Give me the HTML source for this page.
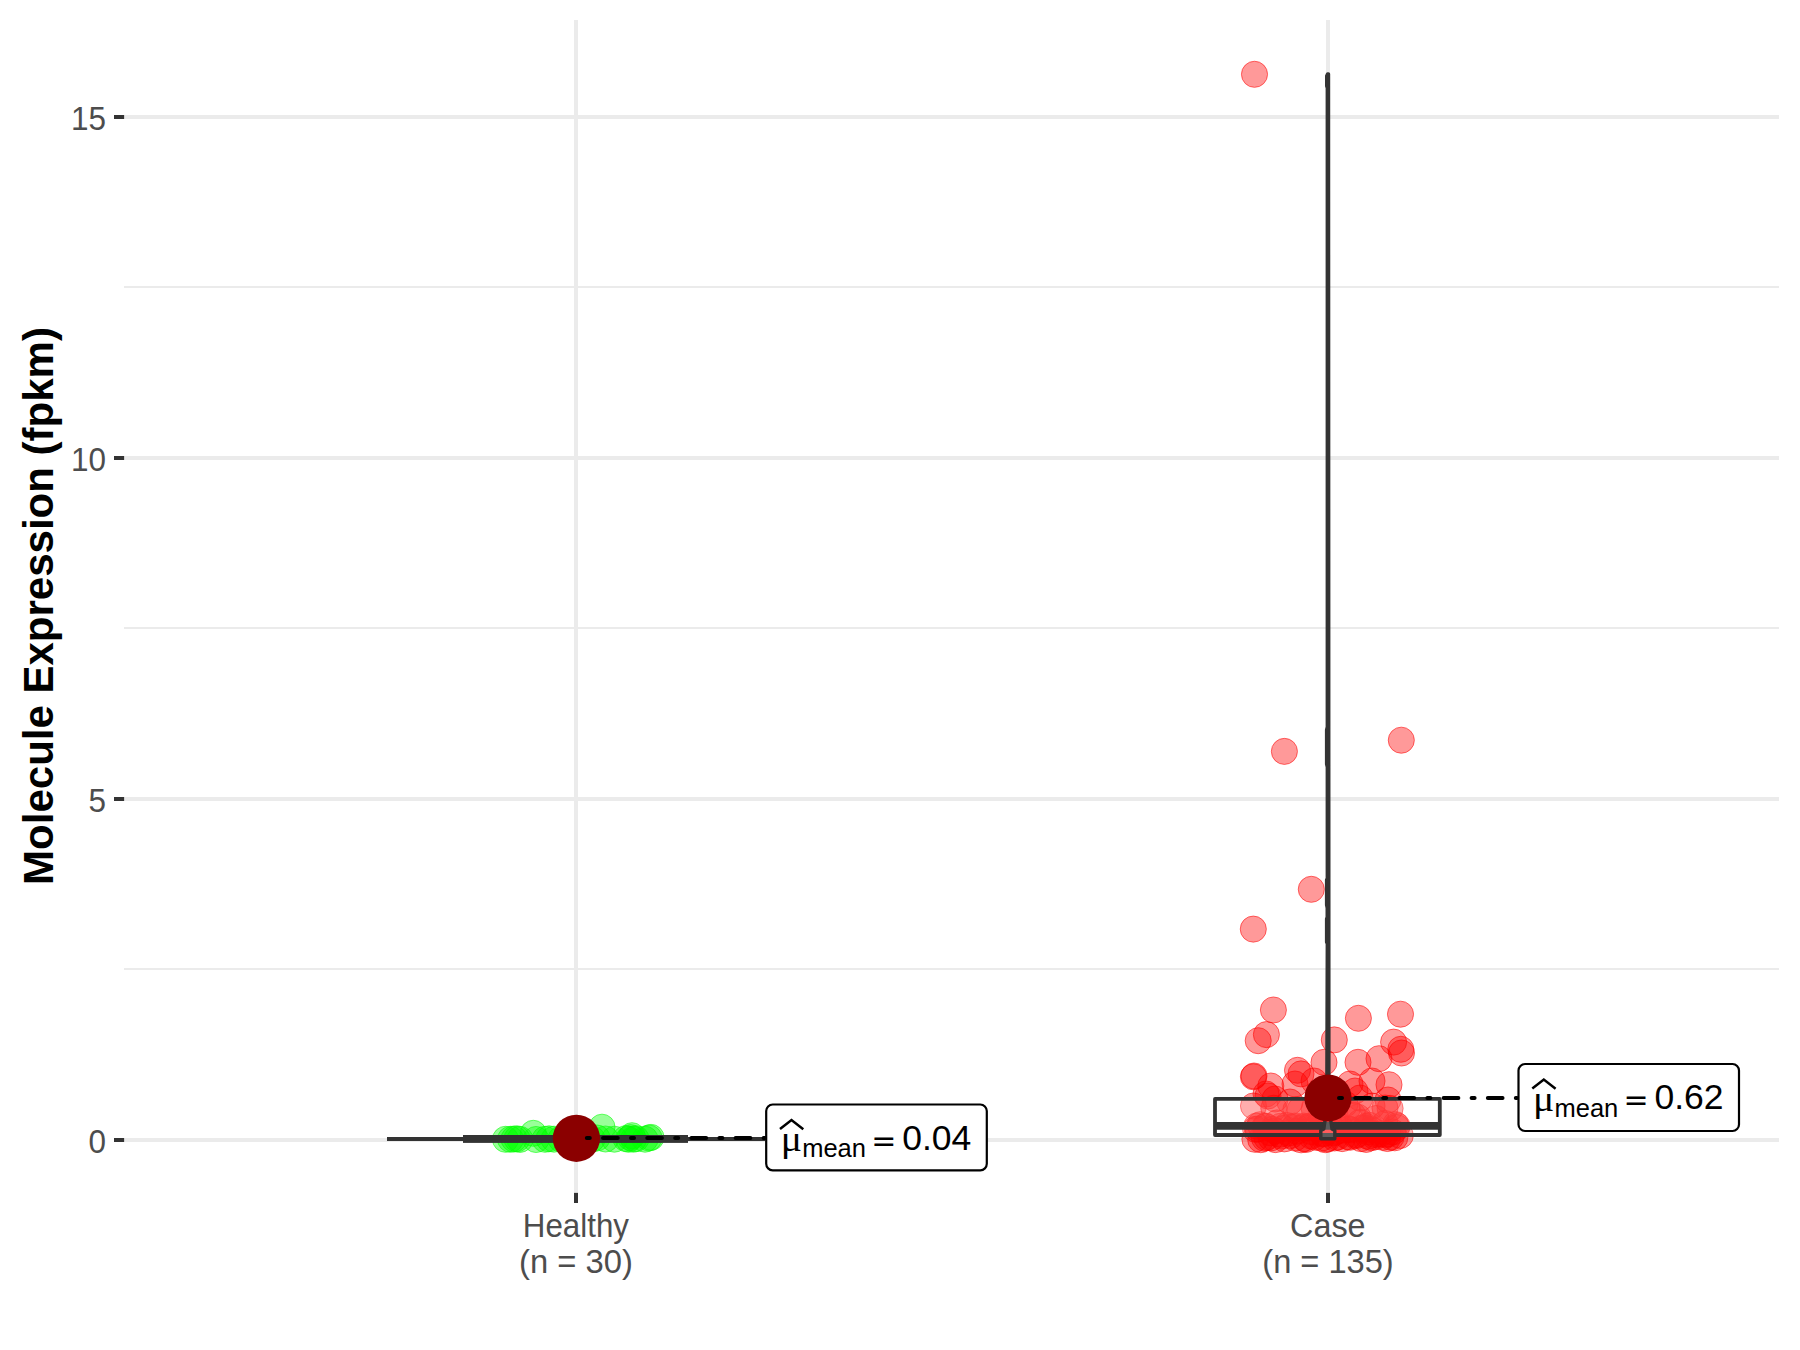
<!DOCTYPE html><html><head><meta charset="utf-8"><title>Molecule Expression</title>
<style>html,body{margin:0;padding:0;background:#fff}svg{display:block}text{font-family:"Liberation Sans",sans-serif}</style></head><body>
<svg width="1800" height="1350" viewBox="0 0 1800 1350">
<rect width="1800" height="1350" fill="#fff"/>
<g stroke="#ebebeb" fill="none">
<line x1="124" x2="1779" y1="287" y2="287" stroke-width="2"/>
<line x1="124" x2="1779" y1="628" y2="628" stroke-width="2"/>
<line x1="124" x2="1779" y1="969" y2="969" stroke-width="2"/>
<line x1="124.8" x2="1779" y1="1140.0" y2="1140.0" stroke-width="4"/>
<line x1="124.8" x2="1779" y1="799.0" y2="799.0" stroke-width="4"/>
<line x1="124.8" x2="1779" y1="458.0" y2="458.0" stroke-width="4"/>
<line x1="124.8" x2="1779" y1="117.0" y2="117.0" stroke-width="4"/>
<line x1="576" x2="576" y1="20" y2="1192.3" stroke-width="4"/>
<line x1="1328" x2="1328" y1="20" y2="1192.3" stroke-width="4"/>
</g>
<g fill="#00ff00" fill-opacity="0.4" stroke="#00ff00" stroke-opacity="0.55" stroke-width="1">
<circle cx="505.5" cy="1139.3" r="13.05"/>
<circle cx="510.5" cy="1139.3" r="13.05"/>
<circle cx="514.0" cy="1139.0" r="13.05"/>
<circle cx="517.0" cy="1138.8" r="13.05"/>
<circle cx="520.0" cy="1139.4" r="13.05"/>
<circle cx="533.3" cy="1133.3" r="13.05"/>
<circle cx="536.0" cy="1139.5" r="13.05"/>
<circle cx="545.0" cy="1139.3" r="13.05"/>
<circle cx="549.0" cy="1138.8" r="13.05"/>
<circle cx="554.0" cy="1139.2" r="13.05"/>
<circle cx="561.0" cy="1139.0" r="13.05"/>
<circle cx="566.0" cy="1139.2" r="13.05"/>
<circle cx="571.0" cy="1139.0" r="13.05"/>
<circle cx="576.0" cy="1138.5" r="13.05"/>
<circle cx="581.0" cy="1139.3" r="13.05"/>
<circle cx="586.0" cy="1137.0" r="13.05"/>
<circle cx="592.0" cy="1139.0" r="13.05"/>
<circle cx="597.0" cy="1138.0" r="13.05"/>
<circle cx="602.0" cy="1127.2" r="13.05"/>
<circle cx="605.5" cy="1139.0" r="13.05"/>
<circle cx="614.4" cy="1139.2" r="13.05"/>
<circle cx="626.0" cy="1138.6" r="13.05"/>
<circle cx="628.5" cy="1139.3" r="13.05"/>
<circle cx="630.5" cy="1137.6" r="13.05"/>
<circle cx="632.0" cy="1135.7" r="13.05"/>
<circle cx="633.5" cy="1139.2" r="13.05"/>
<circle cx="636.0" cy="1138.7" r="13.05"/>
<circle cx="645.0" cy="1139.2" r="13.05"/>
<circle cx="649.0" cy="1138.0" r="13.05"/>
<circle cx="651.0" cy="1137.4" r="13.05"/>
</g>
<g fill="#ff0000" fill-opacity="0.4" stroke="#ff0000" stroke-opacity="0.55" stroke-width="1">
<circle cx="1254.5" cy="74.3" r="13.05"/>
<circle cx="1284.4" cy="751.4" r="13.05"/>
<circle cx="1401.3" cy="740.2" r="13.05"/>
<circle cx="1311.3" cy="889.3" r="13.05"/>
<circle cx="1253.3" cy="929.1" r="13.05"/>
<circle cx="1273.4" cy="1010.0" r="13.05"/>
<circle cx="1358.4" cy="1018.3" r="13.05"/>
<circle cx="1400.5" cy="1014.2" r="13.05"/>
<circle cx="1266.4" cy="1034.6" r="13.05"/>
<circle cx="1258.2" cy="1040.7" r="13.05"/>
<circle cx="1334.3" cy="1039.9" r="13.05"/>
<circle cx="1393.6" cy="1042.1" r="13.05"/>
<circle cx="1400.8" cy="1049.3" r="13.05"/>
<circle cx="1401.5" cy="1053.0" r="13.05"/>
<circle cx="1379.0" cy="1058.7" r="13.05"/>
<circle cx="1358.0" cy="1062.3" r="13.05"/>
<circle cx="1324.0" cy="1062.3" r="13.05"/>
<circle cx="1297.5" cy="1070.3" r="13.05"/>
<circle cx="1301.0" cy="1073.9" r="13.05"/>
<circle cx="1254.0" cy="1076.0" r="13.05"/>
<circle cx="1253.4" cy="1076.8" r="13.05"/>
<circle cx="1389.0" cy="1084.7" r="13.05"/>
<circle cx="1350.0" cy="1084.0" r="13.05"/>
<circle cx="1372.0" cy="1081.0" r="13.05"/>
<circle cx="1295.0" cy="1084.0" r="13.05"/>
<circle cx="1270.8" cy="1086.0" r="13.05"/>
<circle cx="1266.0" cy="1094.0" r="13.05"/>
<circle cx="1268.0" cy="1096.0" r="13.05"/>
<circle cx="1314.0" cy="1081.0" r="13.05"/>
<circle cx="1388.0" cy="1100.0" r="13.05"/>
<circle cx="1355.0" cy="1091.0" r="13.05"/>
<circle cx="1360.0" cy="1098.0" r="13.05"/>
<circle cx="1253.5" cy="1106.0" r="13.05"/>
<circle cx="1290.0" cy="1102.0" r="13.05"/>
<circle cx="1275.0" cy="1099.0" r="13.05"/>
<circle cx="1385.0" cy="1108.0" r="13.05"/>
<circle cx="1372.0" cy="1106.0" r="13.05"/>
<circle cx="1300.0" cy="1110.0" r="13.05"/>
<circle cx="1345.0" cy="1104.0" r="13.05"/>
<circle cx="1254.9" cy="1139.3" r="13.05"/>
<circle cx="1260.7" cy="1139.7" r="13.05"/>
<circle cx="1264.5" cy="1138.3" r="13.05"/>
<circle cx="1266.8" cy="1137.6" r="13.05"/>
<circle cx="1271.0" cy="1137.9" r="13.05"/>
<circle cx="1275.5" cy="1139.6" r="13.05"/>
<circle cx="1281.4" cy="1136.1" r="13.05"/>
<circle cx="1284.4" cy="1138.9" r="13.05"/>
<circle cx="1290.9" cy="1135.5" r="13.05"/>
<circle cx="1295.0" cy="1138.1" r="13.05"/>
<circle cx="1301.1" cy="1139.8" r="13.05"/>
<circle cx="1304.9" cy="1138.6" r="13.05"/>
<circle cx="1306.2" cy="1139.4" r="13.05"/>
<circle cx="1311.2" cy="1136.1" r="13.05"/>
<circle cx="1315.0" cy="1137.2" r="13.05"/>
<circle cx="1321.3" cy="1138.2" r="13.05"/>
<circle cx="1325.3" cy="1139.7" r="13.05"/>
<circle cx="1327.5" cy="1139.0" r="13.05"/>
<circle cx="1334.5" cy="1138.0" r="13.05"/>
<circle cx="1337.3" cy="1137.2" r="13.05"/>
<circle cx="1342.2" cy="1138.6" r="13.05"/>
<circle cx="1348.0" cy="1136.7" r="13.05"/>
<circle cx="1350.0" cy="1137.3" r="13.05"/>
<circle cx="1355.6" cy="1135.8" r="13.05"/>
<circle cx="1360.8" cy="1138.6" r="13.05"/>
<circle cx="1366.2" cy="1139.4" r="13.05"/>
<circle cx="1368.1" cy="1136.4" r="13.05"/>
<circle cx="1371.3" cy="1137.7" r="13.05"/>
<circle cx="1375.1" cy="1136.8" r="13.05"/>
<circle cx="1382.6" cy="1137.3" r="13.05"/>
<circle cx="1387.4" cy="1138.5" r="13.05"/>
<circle cx="1391.0" cy="1137.2" r="13.05"/>
<circle cx="1394.8" cy="1137.8" r="13.05"/>
<circle cx="1400.3" cy="1135.5" r="13.05"/>
<circle cx="1255.6" cy="1129.3" r="13.05"/>
<circle cx="1258.1" cy="1129.0" r="13.05"/>
<circle cx="1265.0" cy="1126.4" r="13.05"/>
<circle cx="1270.1" cy="1132.7" r="13.05"/>
<circle cx="1272.5" cy="1129.3" r="13.05"/>
<circle cx="1275.3" cy="1131.1" r="13.05"/>
<circle cx="1280.3" cy="1134.2" r="13.05"/>
<circle cx="1284.1" cy="1128.4" r="13.05"/>
<circle cx="1288.8" cy="1133.0" r="13.05"/>
<circle cx="1294.2" cy="1127.5" r="13.05"/>
<circle cx="1297.2" cy="1131.2" r="13.05"/>
<circle cx="1303.6" cy="1127.4" r="13.05"/>
<circle cx="1309.1" cy="1127.6" r="13.05"/>
<circle cx="1311.1" cy="1131.5" r="13.05"/>
<circle cx="1315.8" cy="1127.4" r="13.05"/>
<circle cx="1322.7" cy="1133.9" r="13.05"/>
<circle cx="1323.7" cy="1133.2" r="13.05"/>
<circle cx="1328.3" cy="1130.9" r="13.05"/>
<circle cx="1334.1" cy="1132.9" r="13.05"/>
<circle cx="1335.9" cy="1131.5" r="13.05"/>
<circle cx="1341.9" cy="1130.2" r="13.05"/>
<circle cx="1348.7" cy="1129.1" r="13.05"/>
<circle cx="1351.2" cy="1129.8" r="13.05"/>
<circle cx="1356.2" cy="1134.7" r="13.05"/>
<circle cx="1361.5" cy="1128.3" r="13.05"/>
<circle cx="1365.7" cy="1128.2" r="13.05"/>
<circle cx="1368.0" cy="1131.7" r="13.05"/>
<circle cx="1371.1" cy="1129.6" r="13.05"/>
<circle cx="1375.2" cy="1134.6" r="13.05"/>
<circle cx="1380.2" cy="1133.8" r="13.05"/>
<circle cx="1385.1" cy="1134.8" r="13.05"/>
<circle cx="1388.0" cy="1133.9" r="13.05"/>
<circle cx="1392.8" cy="1132.0" r="13.05"/>
<circle cx="1396.8" cy="1127.5" r="13.05"/>
<circle cx="1256.7" cy="1126.1" r="13.05"/>
<circle cx="1260.1" cy="1124.7" r="13.05"/>
<circle cx="1266.0" cy="1126.2" r="13.05"/>
<circle cx="1273.8" cy="1108.2" r="13.05"/>
<circle cx="1277.0" cy="1122.9" r="13.05"/>
<circle cx="1280.3" cy="1126.3" r="13.05"/>
<circle cx="1286.9" cy="1125.5" r="13.05"/>
<circle cx="1294.7" cy="1126.1" r="13.05"/>
<circle cx="1295.8" cy="1110.0" r="13.05"/>
<circle cx="1303.7" cy="1126.1" r="13.05"/>
<circle cx="1309.0" cy="1126.4" r="13.05"/>
<circle cx="1314.2" cy="1108.8" r="13.05"/>
<circle cx="1321.3" cy="1118.4" r="13.05"/>
<circle cx="1323.4" cy="1124.5" r="13.05"/>
<circle cx="1328.1" cy="1116.2" r="13.05"/>
<circle cx="1335.3" cy="1116.0" r="13.05"/>
<circle cx="1339.5" cy="1125.8" r="13.05"/>
<circle cx="1347.3" cy="1108.6" r="13.05"/>
<circle cx="1352.8" cy="1115.1" r="13.05"/>
<circle cx="1357.9" cy="1117.2" r="13.05"/>
<circle cx="1360.1" cy="1122.3" r="13.05"/>
<circle cx="1366.0" cy="1126.4" r="13.05"/>
<circle cx="1369.5" cy="1125.4" r="13.05"/>
<circle cx="1376.0" cy="1118.5" r="13.05"/>
<circle cx="1385.0" cy="1123.5" r="13.05"/>
<circle cx="1390.1" cy="1108.4" r="13.05"/>
<circle cx="1395.5" cy="1124.6" r="13.05"/>
<circle cx="1396.9" cy="1125.8" r="13.05"/>
</g>
<rect x="463" y="1135" width="225" height="7.9" fill="#333333"/>
<line x1="387" x2="765" y1="1139" y2="1139" stroke="#333333" stroke-width="4"/>
<rect x="1215" y="1098.9" width="224.8" height="36.1" fill="#fff" fill-opacity="0.2" stroke="#333333" stroke-width="3.8" stroke-linejoin="round"/>
<line x1="1215" x2="1439.8" y1="1125.9" y2="1125.9" stroke="#333333" stroke-width="7.6"/>
<path d="M1327.6,74 L1326.7,76 L1326.7,86 L1327.3,88 L1327.3,727 L1326.6,730 L1326.6,764 L1327.3,767 L1327.3,878 L1326.6,880 L1326.6,905 L1327.2,908 L1327.2,917 L1326.6,919 L1326.6,942 L1327.3,944 L1326.8,1100 L1325.8,1118 L1324.8,1122 L1323.8,1129 L1320.8,1130.6 L1320.8,1138.8 L1334.8,1138.8 L1334.8,1130.6 L1332,1129 L1331,1122 L1330,1118 L1328.9,1100 L1328.5,74 Z" fill="#fff" fill-opacity="0.2" stroke="#333333" stroke-width="3.4" stroke-linejoin="round"/>
<circle cx="576.4" cy="1138.3" r="23.6" fill="#8b0000"/>
<circle cx="1328" cy="1098" r="23.6" fill="#8b0000"/>
<line x1="586.8" x2="765" y1="1138.1" y2="1138.1" stroke="#000" stroke-width="4" stroke-linecap="round" stroke-dasharray="3 13.25 14.7 13.25" fill="none"/>
<line x1="1339" x2="1517" y1="1098" y2="1098" stroke="#000" stroke-width="4" stroke-linecap="round" stroke-dasharray="3 13.25 14.7 13.25" fill="none"/>
<rect x="766.2" y="1104.5" width="220.5999999999999" height="65.79999999999995" rx="6.5" ry="6.5" fill="#fff" stroke="#000" stroke-width="2.2"/>
<text transform="translate(780.8000000000001,1151.0) scale(1.1,1)" style="font-family:'Liberation Serif',serif" font-size="36" fill="#000">μ</text>
<text y="1151.0" font-size="35.5" fill="#000"><tspan x="802.2" font-size="25.5" dy="6.3">mean</tspan><tspan x="871.2" dy="-6.4" font-family="'DejaVu Sans',sans-serif" font-size="30">=</tspan><tspan x="902.2" dy="-1.4">0.04</tspan></text>
<path d="M780.0,1129.1 L791.5,1120.0 L803.3,1129.3" fill="none" stroke="#000" stroke-width="2.5"/>
<rect x="1518.5" y="1064" width="220.5" height="67" rx="6.5" ry="6.5" fill="#fff" stroke="#000" stroke-width="2.2"/>
<text transform="translate(1533.1,1110.5) scale(1.1,1)" style="font-family:'Liberation Serif',serif" font-size="36" fill="#000">μ</text>
<text y="1110.5" font-size="35.5" fill="#000"><tspan x="1554.5" font-size="25.5" dy="6.3">mean</tspan><tspan x="1623.5" dy="-6.4" font-family="'DejaVu Sans',sans-serif" font-size="30">=</tspan><tspan x="1654.5" dy="-1.4">0.62</tspan></text>
<path d="M1532.3,1088.6 L1543.8,1079.5 L1555.6,1088.8" fill="none" stroke="#000" stroke-width="2.5"/>
<g stroke="#333333" stroke-width="4">
<line x1="114" x2="124.2" y1="1140.0" y2="1140.0"/>
<line x1="114" x2="124.2" y1="799.0" y2="799.0"/>
<line x1="114" x2="124.2" y1="458.0" y2="458.0"/>
<line x1="114" x2="124.2" y1="117.0" y2="117.0"/>
<line x1="576" x2="576" y1="1192.8" y2="1203"/>
<line x1="1328" x2="1328" y1="1192.8" y2="1203"/>
</g>
<g fill="#4d4d4d" font-size="33.3">
<text transform="translate(106,1152.5) scale(0.945,1)" text-anchor="end">0</text>
<text transform="translate(106,811.5) scale(0.945,1)" text-anchor="end">5</text>
<text transform="translate(106,470.5) scale(0.945,1)" text-anchor="end">10</text>
<text transform="translate(106,129.5) scale(0.945,1)" text-anchor="end">15</text>
<text transform="translate(575.9,1237) scale(0.94,1)" text-anchor="middle">Healthy</text>
<text transform="translate(576,1272.5) scale(0.984,1)" text-anchor="middle">(n = 30)</text>
<text transform="translate(1327.8,1237) scale(0.972,1)" text-anchor="middle">Case</text>
<text transform="translate(1328,1272.5) scale(0.98,1)" text-anchor="middle">(n = 135)</text>
</g>
<text transform="translate(52.6,606) rotate(-90)" text-anchor="middle" font-size="42" font-weight="bold" fill="#000">Molecule Expression (fpkm)</text>
</svg></body></html>
